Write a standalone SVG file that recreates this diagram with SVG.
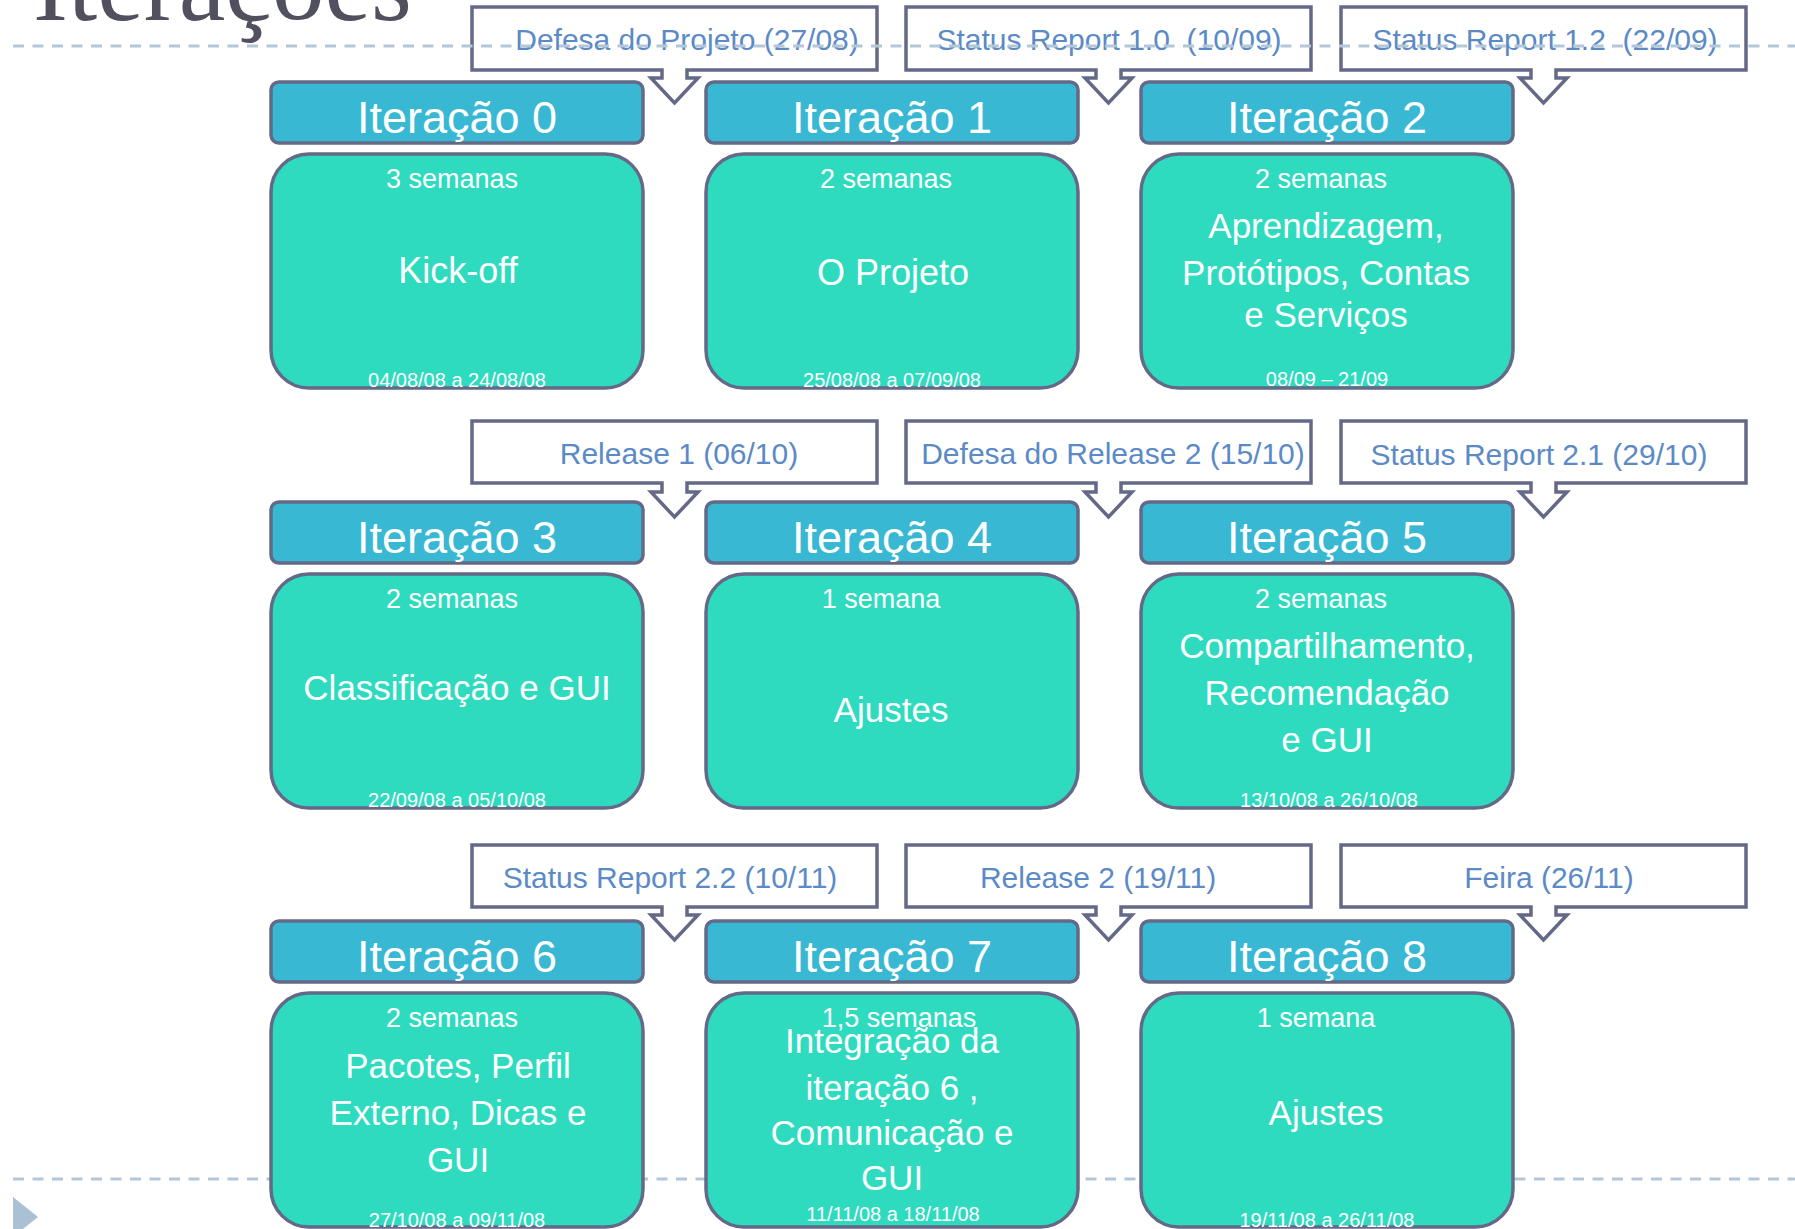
<svg xmlns="http://www.w3.org/2000/svg" width="1795" height="1229" viewBox="0 0 1795 1229">
<style>
.hdr{fill:#38b8d3;stroke:#636987;stroke-width:3.5}
.bdy{fill:#2edbbf;stroke:#636987;stroke-width:3.5}
.co{fill:none;stroke:#636987;stroke-width:3.5;stroke-linejoin:miter}
.t{font-family:"Liberation Sans",Arial,sans-serif;fill:#ffffff;text-anchor:middle}
.h{font-size:45px}
.w{font-size:27px}
.m{font-size:35px}
.d{font-size:20px}
.ct{font-family:"Liberation Sans",Arial,sans-serif;font-size:30px;fill:#5b8ac7;text-anchor:middle}
.dash{stroke:#b3c7d9;stroke-width:3;stroke-dasharray:11 8.5}
</style>
<rect width="1795" height="1229" fill="#ffffff"/>
<line class="dash" x1="13" y1="1179" x2="1795" y2="1179"/>
<polygon points="13,1197 38,1217 13,1237" fill="#a9c0d5"/>

<g id="iter0">
<rect class="hdr" x="271" y="82" width="372" height="61" rx="8"/>
<text class="t h" x="457" y="133">Iteração 0</text>
<rect class="bdy" x="271" y="154" width="372" height="234" rx="38"/>
<text class="t w" x="452" y="188">3 semanas</text>
<text class="t m" x="458" y="283" style="font-size:36px">Kick-off</text>
<text class="t d" x="457" y="387">04/08/08 a 24/08/08</text>
</g>
<g id="iter1">
<rect class="hdr" x="706" y="82" width="372" height="61" rx="8"/>
<text class="t h" x="892" y="133">Iteração 1</text>
<rect class="bdy" x="706" y="154" width="372" height="234" rx="38"/>
<text class="t w" x="886" y="188">2 semanas</text>
<text class="t m" x="893" y="285" style="font-size:36px">O Projeto</text>
<text class="t d" x="892" y="387">25/08/08 a 07/09/08</text>
</g>
<g id="iter2">
<rect class="hdr" x="1141" y="82" width="372" height="61" rx="8"/>
<text class="t h" x="1327" y="133">Iteração 2</text>
<rect class="bdy" x="1141" y="154" width="372" height="234" rx="38"/>
<text class="t w" x="1321" y="188">2 semanas</text>
<text class="t m" x="1326" y="238">Aprendizagem,</text>
<text class="t m" x="1326" y="285">Protótipos, Contas</text>
<text class="t m" x="1326" y="327">e Serviços</text>
<text class="t d" x="1327" y="386">08/09 – 21/09</text>
</g>

<g id="iter3">
<rect class="hdr" x="271" y="502" width="372" height="61" rx="8"/>
<text class="t h" x="457" y="553">Iteração 3</text>
<rect class="bdy" x="271" y="574" width="372" height="234" rx="38"/>
<text class="t w" x="452" y="608">2 semanas</text>
<text class="t m" x="457" y="700">Classificação e GUI</text>
<text class="t d" x="457" y="807">22/09/08 a 05/10/08</text>
</g>
<g id="iter4">
<rect class="hdr" x="706" y="502" width="372" height="61" rx="8"/>
<text class="t h" x="892" y="553">Iteração 4</text>
<rect class="bdy" x="706" y="574" width="372" height="234" rx="38"/>
<text class="t w" x="881" y="608">1 semana</text>
<text class="t m" x="891" y="722">Ajustes</text>
</g>
<g id="iter5">
<rect class="hdr" x="1141" y="502" width="372" height="61" rx="8"/>
<text class="t h" x="1327" y="553">Iteração 5</text>
<rect class="bdy" x="1141" y="574" width="372" height="234" rx="38"/>
<text class="t w" x="1321" y="608">2 semanas</text>
<text class="t m" x="1327" y="658">Compartilhamento,</text>
<text class="t m" x="1327" y="705">Recomendação</text>
<text class="t m" x="1327" y="752">e GUI</text>
<text class="t d" x="1329" y="807">13/10/08 a 26/10/08</text>
</g>

<g id="iter6">
<rect class="hdr" x="271" y="921" width="372" height="61" rx="8"/>
<text class="t h" x="457" y="972">Iteração 6</text>
<rect class="bdy" x="271" y="993" width="372" height="234" rx="38"/>
<text class="t w" x="452" y="1027">2 semanas</text>
<text class="t m" x="458" y="1078">Pacotes, Perfil</text>
<text class="t m" x="458" y="1125">Externo, Dicas e</text>
<text class="t m" x="458" y="1172">GUI</text>
<text class="t d" x="457" y="1227">27/10/08 a 09/11/08</text>
</g>
<g id="iter7">
<rect class="hdr" x="706" y="921" width="372" height="61" rx="8"/>
<text class="t h" x="892" y="972">Iteração 7</text>
<rect class="bdy" x="706" y="993" width="372" height="234" rx="38"/>
<text class="t w" x="899" y="1027">1,5 semanas</text>
<text class="t m" x="892" y="1053">Integração da</text>
<text class="t m" x="892" y="1100">iteração 6 ,</text>
<text class="t m" x="892" y="1145">Comunicação e</text>
<text class="t m" x="892" y="1190">GUI</text>
<text class="t d" x="893" y="1221">11/11/08 a 18/11/08</text>
</g>
<g id="iter8">
<rect class="hdr" x="1141" y="921" width="372" height="61" rx="8"/>
<text class="t h" x="1327" y="972">Iteração 8</text>
<rect class="bdy" x="1141" y="993" width="372" height="234" rx="38"/>
<text class="t w" x="1316" y="1027">1 semana</text>
<text class="t m" x="1326" y="1125">Ajustes</text>
<text class="t d" x="1327" y="1227">19/11/08 a 26/11/08</text>
</g>

<g id="callout-defesa-projeto">
<path class="co" d="M472 7h405v63H687v8h11l-23.5 25l-23.5-25h11v-8H472Z"/>
<text class="ct" x="687" y="50">Defesa do Projeto (27/08)</text>
</g>
<g id="callout-sr10">
<path class="co" d="M906 7h405v63H1121v8h11l-23.5 25l-23.5-25h11v-8H906Z"/>
<text class="ct" x="1109" y="50" xml:space="preserve">Status Report 1.0  (10/09)</text>
</g>
<g id="callout-sr12">
<path class="co" d="M1341 7h405v63H1556v8h11l-23.5 25l-23.5-25h11v-8H1341Z"/>
<text class="ct" x="1545" y="50" xml:space="preserve">Status Report 1.2  (22/09)</text>
</g>

<g id="callout-release1">
<path class="co" d="M472 421h405v62H687v9h11l-23.5 25l-23.5-25h11v-9H472Z"/>
<text class="ct" x="679" y="464">Release 1 (06/10)</text>
</g>
<g id="callout-defesa-release2">
<path class="co" d="M906 421h405v62H1121v9h11l-23.5 25l-23.5-25h11v-9H906Z"/>
<text class="ct" x="1113" y="464">Defesa do Release 2 (15/10)</text>
</g>
<g id="callout-sr21">
<path class="co" d="M1341 421h405v62H1556v9h11l-23.5 25l-23.5-25h11v-9H1341Z"/>
<text class="ct" x="1539" y="465">Status Report 2.1 (29/10)</text>
</g>

<g id="callout-sr22">
<path class="co" d="M472 845h405v62H687v8h11l-23.5 25l-23.5-25h11v-8H472Z"/>
<text class="ct" x="670" y="888">Status Report 2.2 (10/11)</text>
</g>
<g id="callout-release2">
<path class="co" d="M906 845h405v62H1121v8h11l-23.5 25l-23.5-25h11v-8H906Z"/>
<text class="ct" x="1098" y="888">Release 2 (19/11)</text>
</g>
<g id="callout-feira">
<path class="co" d="M1341 845h405v62H1556v8h11l-23.5 25l-23.5-25h11v-8H1341Z"/>
<text class="ct" x="1549" y="888">Feira (26/11)</text>
</g>

<g id="connectors"/>

<line class="dash" x1="13" y1="46" x2="1795" y2="46"/>
<text x="33" y="20" font-family="'Liberation Serif', 'Times New Roman', serif" font-size="105" fill="#50505f">Iterações</text>
</svg>
